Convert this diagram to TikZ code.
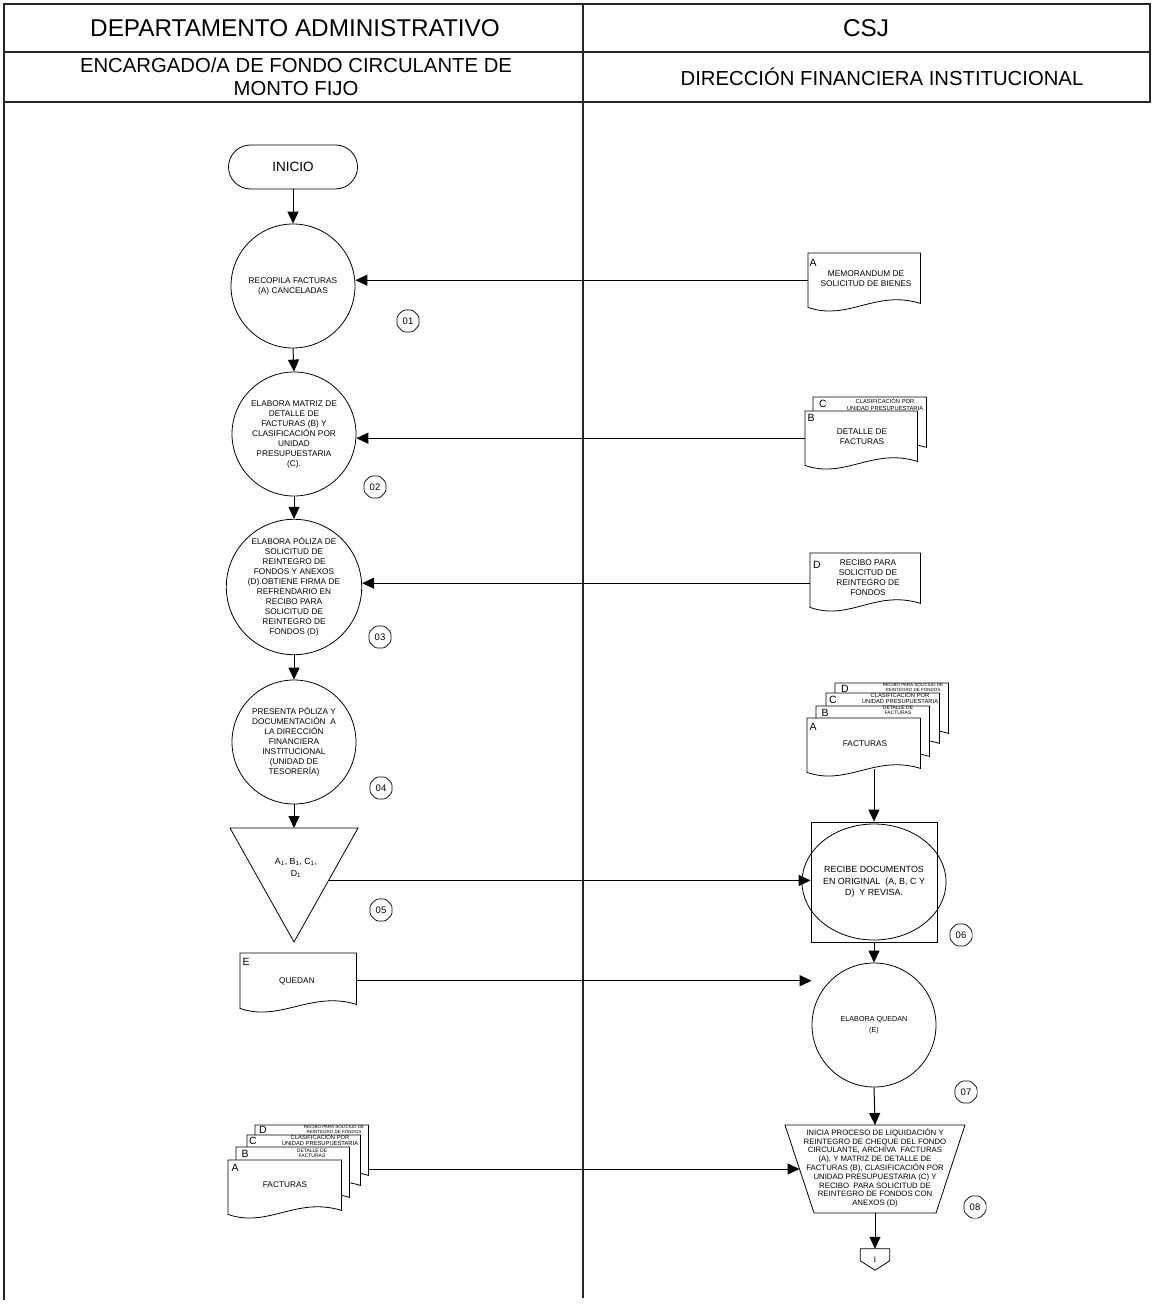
\documentclass[tikz,border=0pt]{standalone}
\usepackage{fontspec}
\setmainfont{Liberation Sans}
\newfontfamily\serifI{Liberation Serif}
\usetikzlibrary{arrows.meta,shapes.geometric,calc}

\tikzset{
 hdr/.style={line width=1.3pt, draw=black!85},
 shp/.style={draw=black, line width=0.8pt},
 circ/.style={shp, circle, minimum size=124pt, inner sep=0pt, align=center, font=\fontsize{8.3}{10}\selectfont},
 conn/.style={line width=1pt, -{Triangle[length=12pt,width=11pt]}},
 docbox/.style={anchor=north west, inner sep=0pt, minimum width=113pt, minimum height=54pt},
 docline/.style={shp, fill=white},
 doctxt/.style={align=center, font=\fontsize{8.3}{10}\selectfont, inner sep=0pt},
 letter/.style={inner sep=0pt, font=\fontsize{10.5}{12}\selectfont},
 tinytxt/.style={align=center, inner sep=0pt, font=\fontsize{4.5}{5}\selectfont},
 smalltxt/.style={align=center, inner sep=0pt, font=\fontsize{5.8}{6.2}\selectfont},
 btxt/.style={align=center, inner sep=0pt, font=\fontsize{5}{5.5}\selectfont},
 num/.style={shp, line width=0.7pt, regular polygon, regular polygon sides=8, minimum size=24pt, inner sep=0pt, rounded corners=2.5pt, font=\fontsize{9.5}{11}\selectfont},
}
\newcommand\docshape[1]{\draw[docline] (#1.north east) -- (#1.north west) -- (#1.south west) .. controls +(40,14) and +(-45,-14) .. ([yshift=4pt]#1.south east) -- cycle;}

\begin{document}
\begin{tikzpicture}[x=1pt,y=-1pt]
\useasboundingbox (0,0) rectangle (1154,1305);

% header
\draw[hdr] (4,4) rectangle (1150,102);
\draw[hdr] (4,52) -- (1150,52);
\draw[hdr] (583,4) -- (583,1298);
\draw[hdr] (4,102) -- (4,1300);
\node[font=\fontsize{24.3}{28}\selectfont] (h1) at (295,28) {DEPARTAMENTO ADMINISTRATIVO};
\node[font=\fontsize{24.3}{28}\selectfont] (h2) at (866,28) {CSJ};
\node[font=\fontsize{20.3}{23}\selectfont, align=center] (h3) at (296,77) {ENCARGADO/A DE FONDO CIRCULANTE DE\\MONTO FIJO};
\node[font=\fontsize{20.3}{23}\selectfont] (h4) at (882,77) {DIRECCIÓN FINANCIERA INSTITUCIONAL};

% left column flow
\node[shp, rounded corners=22pt, minimum width=129pt, minimum height=44pt, font=\fontsize{13.5}{15}\selectfont] (ini) at (293,167) {INICIO};
\node[circ] (c1) at (293,286) {RECOPILA FACTURAS\\(A) CANCELADAS};
\node[circ] (c2) at (294,434) {ELABORA MATRIZ DE\\DETALLE DE\\FACTURAS (B) Y\\CLASIFICACIÓN POR\\UNIDAD\\PRESUPUESTARIA\\(C).};
\node[circ] (c3) at (294,587) {ELABORA PÓLIZA DE\\SOLICITUD DE\\REINTEGRO DE\\FONDOS Y ANEXOS\\(D).OBTIENE FIRMA DE\\REFRENDARIO EN\\RECIBO PARA\\SOLICITUD DE\\REINTEGRO DE\\FONDOS (D)};
\node[circ] (c4) at (294,742) {PRESENTA PÓLIZA Y\\DOCUMENTACIÓN~ A\\LA DIRECCIÓN\\FINANCIERA\\INSTITUCIONAL\\(UNIDAD DE\\TESORERÍA)};

\coordinate (t1) at (230,828);
\coordinate (t2) at (358,828);
\coordinate (t3) at (294,942);
\draw[shp] (t1) -- (t2) -- (t3) -- cycle;
\node[doctxt, font=\fontsize{8.8}{12}\selectfont] (tri) at (296,868) {A\textsubscript{1}, B\textsubscript{1}, C\textsubscript{1},\\D\textsubscript{1}};
\coordinate (tR) at ($(t2)!0.46!(t3)$);

\draw[conn] (ini.south) -- (c1.north);
\draw[conn] (c1.south) -- (c2.north);
\draw[conn] (c2.south) -- (c3.north);
\draw[conn] (c3.south) -- (c4.north);
\draw[conn] (c4.south) -- (c4.south |- t1);

\node[num] (n01) at (408,321) {01};
\node[num] (n02) at (375,487) {02};
\node[num] (n03) at (380,637) {03};
\node[num] (n04) at (381,788) {04};
\node[num] (n05) at (381,910) {05};

% right column docs
\node[docbox, minimum width=112pt] (dm) at (808,253) {};
\docshape{dm}
\node[letter] (dmL) at (813,263) {A};
\node[doctxt] (dmT) at (866,279) {MEMORANDUM DE\\SOLICITUD DE BIENES};

\node[docbox, minimum width=113pt] (dC2) at (813,397) {};
\docshape{dC2}
\node[docbox, minimum width=112pt] (dB2) at (805,411) {};
\docshape{dB2}
\node[letter] (dC2L) at (823,404) {C};
\node[smalltxt] (dC2T) at (885,404.5) {CLASIFICACIÓN POR\\UNIDAD PRESUPUESTARIA};
\node[letter] (dB2L) at (811,418) {B};
\node[doctxt] (dB2T) at (862,437) {DETALLE DE\\FACTURAS};

\node[docbox, minimum width=110pt] (dD1) at (810,553) {};
\docshape{dD1}
\node[letter] (dD1L) at (817,565) {D};
\node[doctxt] (dD1T) at (868,578) {RECIBO PARA\\SOLICITUD DE\\REINTEGRO DE\\FONDOS};

\draw[conn] (dm.west) -- (dm.west -| c1.east);
\draw[conn] (dB2.west) -- (dB2.west -| c2.east);
\draw[conn] ([yshift=-3pt]dD1.west) -- ([yshift=-3pt]dD1.west -| c3.east);

% right stack
\node[docbox] (rD) at (835,683) {};
\docshape{rD}
\node[docbox] (rC) at (826,693) {};
\docshape{rC}
\node[docbox] (rB) at (816,706) {};
\docshape{rB}
\node[docbox] (rA) at (807,718) {};
\docshape{rA}
\node[letter] (rDL) at (845,689) {D};
\node[tinytxt] (rDT) at (913,687.5) {RECIBO PARA SOLICIUD DE\\REINTEGRO DE FONDOS};
\node[letter] (rCL) at (833,700) {C};
\node[smalltxt] (rCT) at (900,698) {CLASIFICACIÓN POR\\UNIDAD PRESUPUESTARIA};
\node[letter] (rBL) at (825,713) {B};
\node[btxt] (rBT) at (898,710.5) {DETALLE DE\\FACTURAS};
\node[letter] (rAL) at (813,727) {A};
\node[doctxt] (rAT) at (865,744) {FACTURAS};

% square + process 06
\node[shp, minimum width=126pt, minimum height=120pt] (sq) at (874,882) {};
\node[shp, ellipse, minimum width=124pt, minimum height=116pt, inner sep=0pt, align=center, font=\fontsize{8.9}{11.5}\selectfont] (c6) at (874,882) {RECIBE DOCUMENTOS\\EN ORIGINAL~ (A, B, C Y\\D)~ Y REVISA.};
\draw[conn] ([yshift=3pt]sq.north |- rA.south) -- (sq.north);
\draw[conn] (tR) -- (tR -| sq.west);
\node[num] (n06) at (961,935) {06};

% process 07
\node[circ, font=\fontsize{7.2}{10.5}\selectfont] (c7) at (874,1025) {ELABORA QUEDAN\\(E)};
\draw[conn] (sq.south) -- (c7.north);
\node[num] (n07) at (966,1092) {07};

% E doc
\node[docbox, minimum width=116pt, minimum height=55pt] (dE) at (240,953) {};
\docshape{dE}
\node[letter] (dEL) at (246,962) {E};
\node[doctxt] (dET) at (297,981) {QUEDAN};
\draw[conn] (dE.east) -- (dE.east -| c7.west);

% trapezoid 08
\coordinate (trTL) at (785,1125);
\coordinate (trTR) at (965,1125);
\coordinate (trBR) at (936,1213);
\coordinate (trBL) at (814,1213);
\draw[shp] (trTL) -- (trTR) -- (trBR) -- (trBL) -- cycle;
\coordinate (trT) at (875,1125);
\coordinate (trB) at (875,1213);
\coordinate (trL) at ($(trTL)!0.5!(trBL)$);
\node[align=center, inner sep=0pt, font=\fontsize{7.8}{8.8}\selectfont] (trap) at (875,1168) {INICIA PROCESO DE LIQUIDACIÓN Y\\REINTEGRO DE CHEQUE DEL FONDO\\CIRCULANTE, ARCHIVA~ FACTURAS\\(A), Y MATRIZ DE DETALLE DE\\FACTURAS (B), CLASIFICACIÓN POR\\UNIDAD PRESUPUESTARIA (C) Y\\RECIBO~ PARA SOLICITUD DE\\REINTEGRO DE FONDOS CON\\ANEXOS (D)};
\draw[conn] (c7.south) -- (trT);
\node[num] (n08) at (975,1207) {08};

% off-page connector
\node[inner sep=0pt, minimum width=29pt, minimum height=21pt, font=\serifI\fontsize{8}{9}\selectfont] (off) at (875,1259.5) {I};
\draw[shp] (off.north west) -- (off.north east) -- ([yshift=-12pt]off.north east) -- (off.south) -- ([yshift=-12pt]off.north west) -- cycle;
\draw[conn] (trB) -- (off.north);

% left stack
\node[docbox] (lD) at (255,1125) {};
\docshape{lD}
\node[docbox] (lC) at (247,1135) {};
\docshape{lC}
\node[docbox] (lB) at (236,1147) {};
\docshape{lB}
\node[docbox] (lA) at (228,1160) {};
\docshape{lA}
\node[letter] (lDL) at (263,1130) {D};
\node[tinytxt] (lDT) at (334,1129.5) {RECIBO PARA SOLICIUD DE\\REINTEGRO DE FONDOS};
\node[letter] (lCL) at (253,1141) {C};
\node[smalltxt] (lCT) at (320,1140) {CLASIFICACIÓN POR\\UNIDAD PRESUPUESTARIA};
\node[letter] (lBL) at (245,1154) {B};
\node[btxt] (lBT) at (312,1153.5) {DETALLE DE\\FACTURAS};
\node[letter] (lAL) at (235,1168) {A};
\node[doctxt] (lAT) at (285,1185) {FACTURAS};
\draw[conn] (lD.east |- trL) -- (trL);

\end{tikzpicture}
\end{document}
